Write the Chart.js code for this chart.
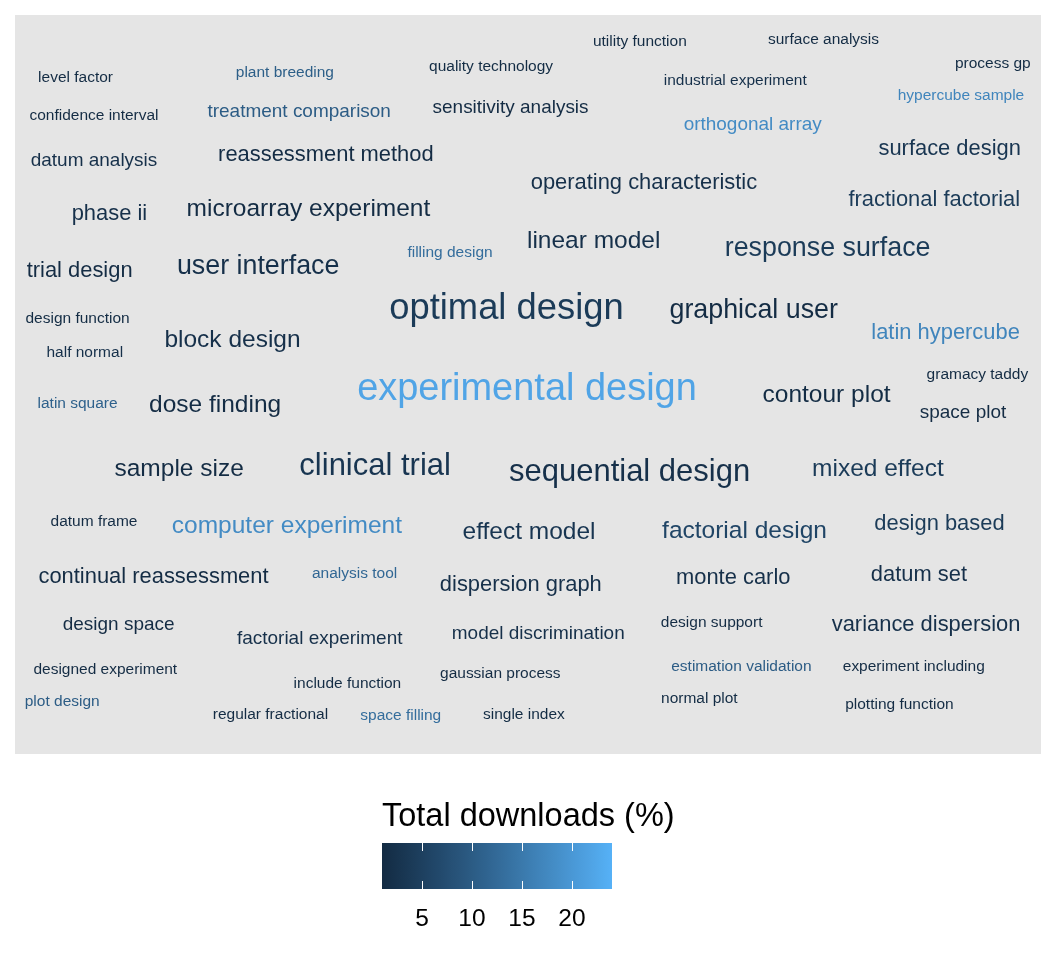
<!DOCTYPE html>
<html>
<head>
<meta charset="utf-8">
<script src="https://cdn.jsdelivr.net/npm/chart.js@4"></script>
<style>
    body { margin: 0; background: #ffffff; font-family: "Liberation Sans", Arial, sans-serif; }
    #wrap { position: relative; width: 1056px; height: 960px; }
    #cloud { position: absolute; left: 0; top: 0; }
    .legend-title { position: absolute; left: 382px; top: 797px; font-size: 32.5px; line-height: 36px; color: #000; white-space: nowrap; }
    #bar { position: absolute; left: 382px; top: 843px; width: 230px; height: 46px; }
    .tick { position: absolute; width: 1px; height: 8px; background: #ffffff; }
    .tick-label { position: absolute; top: 904px; font-size: 24.5px; line-height: 28px; color: #000; transform: translateX(-50%); }
</style>
</head>
<body>
<div id="wrap">
    <canvas id="cloud" width="1056" height="960"></canvas>
    <div class="legend-title">Total downloads (%)</div>
    <div id="bar"></div>
</div>
<script>
const words = [
    "utility function", "surface analysis", "level factor", "plant breeding", "quality technology",
    "process gp", "industrial experiment", "hypercube sample", "confidence interval", "treatment comparison",
    "sensitivity analysis", "orthogonal array", "datum analysis", "reassessment method", "surface design",
    "operating characteristic", "phase ii", "microarray experiment", "fractional factorial", "linear model",
    "response surface", "filling design", "trial design", "user interface", "optimal design",
    "graphical user", "design function", "latin hypercube", "block design", "half normal",
    "experimental design", "gramacy taddy", "latin square", "dose finding", "contour plot",
    "space plot", "sample size", "clinical trial", "sequential design", "mixed effect",
    "datum frame", "computer experiment", "effect model", "factorial design", "design based",
    "continual reassessment", "analysis tool", "dispersion graph", "monte carlo", "datum set",
    "design space", "factorial experiment", "model discrimination", "design support", "variance dispersion",
    "designed experiment", "include function", "gaussian process", "estimation validation", "experiment including",
    "plot design", "normal plot", "plotting function", "regular fractional", "space filling",
    "single index"
];

// layout position of each word in the cloud (0-100 on both axes)
const posX = [
    60.9, 78.8, 5.9, 26.3, 46.4, 95.3, 70.2, 92.2, 7.7, 27.7,
    48.3, 71.9, 7.7, 30.3, 91.1, 61.3, 9.2, 28.6, 89.6, 56.4,
    79.2, 42.4, 6.3, 23.7, 47.9, 72.0, 6.1, 90.7, 21.2, 6.8,
    49.9, 93.8, 6.1, 19.5, 79.1, 92.4, 16.0, 35.1, 59.9, 84.1,
    7.7, 26.5, 50.1, 71.1, 90.1, 13.5, 33.1, 49.3, 70.0, 88.1,
    10.1, 29.7, 51.0, 67.9, 88.8, 8.8, 32.4, 47.3, 70.8, 87.6,
    4.6, 66.7, 86.2, 24.9, 37.6, 49.6
];
const posY = [
    3.5, 3.2, 8.4, 7.7, 6.9, 6.4, 8.8, 10.8, 13.5, 12.9,
    12.4, 14.7, 19.5, 18.8, 18.0, 22.5, 26.7, 26.1, 24.8, 30.4,
    31.4, 32.1, 34.4, 33.8, 39.5, 39.8, 40.9, 42.8, 43.8, 45.6,
    50.3, 48.6, 52.4, 52.6, 51.3, 53.7, 61.3, 60.8, 61.6, 61.3,
    68.5, 69.0, 69.8, 69.6, 68.7, 75.8, 75.5, 77.0, 76.0, 75.6,
    82.4, 84.3, 83.6, 82.1, 82.3, 88.5, 90.3, 89.0, 88.0, 88.0,
    92.8, 92.4, 93.2, 94.6, 94.7, 94.5
];

// number of occurrences (drives the word size)
const freq = [
    2, 2, 2, 2, 2, 2, 2, 2, 2, 3,
    3, 3, 3, 4, 4, 4, 4, 5, 4, 5,
    6, 2, 4, 6, 11, 6, 2, 4, 5, 2,
    12, 2, 2, 5, 5, 3, 5, 8, 8, 5,
    2, 5, 5, 5, 4, 4, 2, 4, 4, 4,
    3, 3, 3, 2, 4, 2, 2, 2, 2, 2,
    2, 2, 2, 2, 2, 2
];

// share of total downloads, % (drives the colour)
const downloads = [
    1.2, 1.2, 1.2, 10.5, 1.1, 1.1, 2, 17, 1.2, 10,
    1.2, 18, 2, 1.2, 3, 2, 2, 1.2, 4, 2,
    4, 13, 1.2, 2, 4, 1.2, 1.1, 17, 2, 2,
    22, 1, 11, 1.2, 1.1, 1.2, 1.2, 3, 2, 4,
    1.2, 18, 3, 6, 4, 1.2, 12, 2, 2, 2,
    1.2, 2, 2, 1.2, 2, 1.2, 1.2, 1.2, 10, 1.2,
    10, 1.1, 1.2, 1.2, 13, 1.1
];

const colorLimits = [1, 24];
const colorTicks = [5, 10, 15, 20];
const lowColor = "#132B43";
const highColor = "#56B1F7";

// --- colour ramp in CIE Lab, like ggplot's gradient
function hexToRgb(hex) {
    const n = parseInt(hex.slice(1), 16);
    return [(n >> 16) & 255, (n >> 8) & 255, n & 255];
}

function rgbToLab(rgb) {
    const lin = rgb.map(c => {
        c /= 255;
        return c <= 0.04045 ? c / 12.92 : Math.pow((c + 0.055) / 1.055, 2.4);
    });
    const X = (0.4124 * lin[0] + 0.3576 * lin[1] + 0.1805 * lin[2]) / 0.95047;
    const Y = (0.2126 * lin[0] + 0.7152 * lin[1] + 0.0722 * lin[2]);
    const Z = (0.0193 * lin[0] + 0.1192 * lin[1] + 0.9505 * lin[2]) / 1.08883;
    const f = t => t > 0.008856 ? Math.cbrt(t) : 7.787 * t + 16 / 116;
    const fx = f(X), fy = f(Y), fz = f(Z);
    return [116 * fy - 16, 500 * (fx - fy), 200 * (fy - fz)];
}

function labToRgb(lab) {
    const fy = (lab[0] + 16) / 116;
    const fx = fy + lab[1] / 500;
    const fz = fy - lab[2] / 200;
    const inv = t => t * t * t > 0.008856 ? t * t * t : (t - 16 / 116) / 7.787;
    const X = inv(fx) * 0.95047, Y = inv(fy), Z = inv(fz) * 1.08883;
    const r = 3.2406 * X - 1.5372 * Y - 0.4986 * Z;
    const g = -0.9689 * X + 1.8758 * Y + 0.0415 * Z;
    const b = 0.0557 * X - 0.2040 * Y + 1.0570 * Z;
    return [r, g, b].map(c => {
        c = c <= 0.0031308 ? 12.92 * c : 1.055 * Math.pow(c, 1 / 2.4) - 0.055;
        return Math.round(Math.min(1, Math.max(0, c)) * 255);
    });
}

const lowLab = rgbToLab(hexToRgb(lowColor));
const highLab = rgbToLab(hexToRgb(highColor));

function colorFor(value) {
    let t = (value - colorLimits[0]) / (colorLimits[1] - colorLimits[0]);
    t = Math.min(1, Math.max(0, t));
    const lab = lowLab.map((v, i) => v + (highLab[i] - v) * t);
    const rgb = labToRgb(lab);
    return `rgb(${rgb[0]}, ${rgb[1]}, ${rgb[2]})`;
}

function fontSizeFor(n) {
    return 10.96 * Math.sqrt(n);
}

// --- plugins
const panelBackground = {
    id: "panelBackground",
    beforeDraw(chart) {
        const { ctx, chartArea } = chart;
        ctx.save();
        ctx.fillStyle = "#E5E5E5";
        ctx.fillRect(chartArea.left, chartArea.top, chartArea.right - chartArea.left, chartArea.bottom - chartArea.top);
        ctx.restore();
    }
};

const wordLabels = {
    id: "wordLabels",
    afterDatasetsDraw(chart) {
        const { ctx } = chart;
        const points = chart.getDatasetMeta(0).data;
        ctx.save();
        ctx.textAlign = "center";
        ctx.textBaseline = "alphabetic";
        points.forEach((pt, i) => {
            const size = fontSizeFor(freq[i]);
            ctx.font = `${size}px "Liberation Sans", Arial, sans-serif`;
            ctx.fillStyle = colorFor(downloads[i]);
            // positions mark the middle of the x-height
            ctx.fillText(words[i], pt.x, pt.y + 0.34 * size);
        });
        ctx.restore();
    }
};

new Chart(document.getElementById("cloud"), {
    type: "scatter",
    data: {
        datasets: [{
            data: words.map((w, i) => ({ x: posX[i], y: posY[i] })),
            pointRadius: 0,
            pointHoverRadius: 0
        }]
    },
    options: {
        responsive: false,
        animation: false,
        devicePixelRatio: 1,
        layout: { padding: { left: 15, right: 15, top: 15, bottom: 206 } },
        plugins: {
            legend: { display: false },
            tooltip: { enabled: false }
        },
        scales: {
            x: { type: "linear", min: 0, max: 100, display: false },
            y: { type: "linear", min: 0, max: 100, reverse: true, display: false }
        }
    },
    plugins: [panelBackground, wordLabels]
});

// --- colour bar legend
function buildColorBar() {
    const bar = document.getElementById("bar");
    const stops = [];
    for (let k = 0; k <= 20; k++) {
        const v = colorLimits[0] + (colorLimits[1] - colorLimits[0]) * k / 20;
        stops.push(`${colorFor(v)} ${k * 5}%`);
    }
    bar.style.background = `linear-gradient(to right, ${stops.join(", ")})`;

    const wrap = document.getElementById("wrap");
    const barLeft = 382;
    const barWidth = 230;
    colorTicks.forEach(v => {
        const x = barLeft + (v - colorLimits[0]) / (colorLimits[1] - colorLimits[0]) * barWidth;
        const rel = x - barLeft;
        const top = document.createElement("div");
        top.className = "tick";
        top.style.left = `${rel}px`;
        top.style.top = "0px";
        bar.appendChild(top);
        const bottom = document.createElement("div");
        bottom.className = "tick";
        bottom.style.left = `${rel}px`;
        bottom.style.bottom = "0px";
        bar.appendChild(bottom);
        const label = document.createElement("div");
        label.className = "tick-label";
        label.style.left = `${x}px`;
        label.textContent = v;
        wrap.appendChild(label);
    });
}

buildColorBar();
</script>
</body>
</html>
